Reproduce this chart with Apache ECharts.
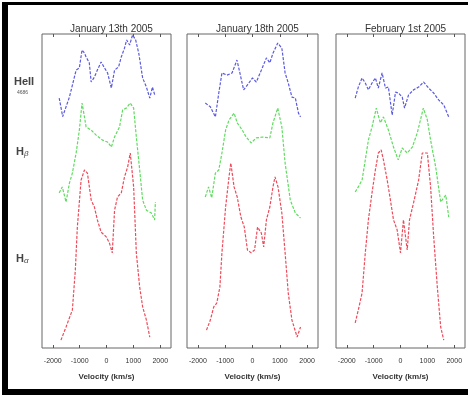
<!DOCTYPE html>
<html>
<head>
<meta charset="utf-8">
<script src="https://cdn.jsdelivr.net/npm/echarts@6/dist/echarts.min.js"></script>
<style>
  html, body { margin: 0; padding: 0; background: #fff; }
  #chart { width: 468px; height: 397px; }
</style>
</head>
<body>
<div id="chart"></div>
<script>
// panel titles and line labels
const dates = ['January 13th 2005', 'January 18th 2005', 'February 1st 2005']
const velocityTicks = [-2000, -1000, 0, 1000, 2000]

// [velocity km/s, relative flux (offset)]
const jan13HeII = [[-1760,7.96],[-1630,7.37],[-1380,7.99],[-1130,8.85],[-1010,8.92],[-910,9.49],[-820,9.39],[-760,9.27],[-640,9.08],[-570,8.47],[-450,8.63],[-340,8.85],[-200,9.11],[-75,8.92],[40,8.76],[180,8.28],[300,8.85],[450,8.95],[550,9.27],[670,9.55],[750,9.81],[860,9.65],[970,9.97],[1085,9.81],[1200,9.39],[1345,8.6],[1485,8.31],[1610,7.96],[1710,8.31],[1795,8.06]]
const jan13Hb = [[-1760,4.94],[-1645,5.13],[-1505,4.65],[-1380,5.25],[-1270,5.57],[-1130,6.21],[-1010,6.94],[-910,7.8],[-820,7.36],[-760,7.04],[-570,6.94],[-385,6.78],[-150,6.62],[40,6.56],[180,6.4],[300,6.72],[485,7.04],[600,7.58],[735,7.64],[885,7.8],[1010,7.64],[1110,6.72],[1235,5.67],[1345,4.71],[1485,4.39],[1670,4.3],[1790,4.08],[1820,4.65]]
const jan13Ha = [[-1695,0.25],[-1505,0.67],[-1270,1.21],[-1160,2.48],[-1085,3.85],[-945,5.35],[-820,5.67],[-710,5.57],[-570,4.71],[-450,4.49],[-340,4.08],[-200,3.69],[-10,3.54],[110,3.34],[215,3.03],[300,4.39],[410,4.81],[550,4.94],[670,5.45],[785,5.76],[885,6.21],[1010,5.13],[1110,3.03],[1235,1.94],[1345,1.31],[1485,0.89],[1610,0.35]]

const jan18HeII = [[-1730,7.8],[-1545,7.68],[-1360,7.36],[-1235,8.12],[-1120,8.76],[-935,8.69],[-750,8.76],[-570,9.17],[-485,8.85],[-325,8.22],[-185,8.38],[0,8.6],[140,8.47],[325,8.85],[510,9.24],[635,9.08],[750,9.39],[925,9.71],[1075,9.55],[1195,8.76],[1310,8.44],[1445,7.99],[1570,7.96],[1685,7.48],[1760,7.36]]
const jan18Hb = [[-1730,4.81],[-1610,5.13],[-1495,4.78],[-1360,5.57],[-1235,5.67],[-1120,6.21],[-985,6.94],[-860,7.26],[-675,7.48],[-560,7.17],[-375,6.94],[-235,6.72],[-50,6.53],[140,6.69],[375,6.72],[635,6.69],[750,7.17],[925,7.64],[1075,7.04],[1195,5.89],[1385,4.71],[1570,4.3],[1760,4.14]]
const jan18Ha = [[-1685,0.57],[-1545,0.89],[-1420,1.31],[-1310,1.43],[-1195,1.94],[-1120,3.03],[-985,4.49],[-860,5.45],[-795,5.89],[-675,5.13],[-560,4.81],[-425,4.17],[-300,3.85],[-185,3.12],[-50,3.03],[75,3.12],[185,3.85],[325,3.66],[410,3.22],[510,4.08],[635,4.49],[750,5.13],[825,5.45],[935,5.13],[1075,4.3],[1195,3.03],[1310,1.75],[1445,0.89],[1635,0.35],[1760,0.67]]

const feb1HeII = [[-1685,7.96],[-1570,8.31],[-1430,8.6],[-1310,8.44],[-1195,8.22],[-1060,8.44],[-935,8.6],[-825,8.28],[-685,8.76],[-560,8.28],[-450,8.31],[-310,7.42],[-185,8.15],[-75,8.12],[65,7.99],[150,7.64],[300,8.06],[485,8.22],[675,8.31],[860,8.47],[1045,8.28],[1235,8.12],[1420,7.9],[1610,7.74],[1795,7.36]]
const feb1Hb = [[-1685,4.97],[-1570,5.13],[-1430,5.35],[-1310,5.99],[-1195,6.62],[-1060,7.04],[-900,7.64],[-750,7.17],[-635,7.36],[-450,6.94],[-260,6.4],[-85,5.99],[65,6.37],[250,6.21],[440,6.4],[625,6.85],[850,7.64],[1000,7.26],[1120,6.62],[1310,5.76],[1495,4.65],[1685,4.87],[1795,4.17]]
const feb1Ha = [[-1685,0.8],[-1570,1.21],[-1430,1.75],[-1310,3.03],[-1195,4.08],[-1060,4.94],[-935,5.67],[-825,6.21],[-720,6.31],[-635,5.99],[-495,5.35],[-375,4.71],[-260,4.08],[-125,3.76],[0,3.03],[110,4.08],[250,3.12],[335,4.08],[485,4.62],[675,5.35],[810,6.21],[1000,6.21],[1120,5.13],[1235,3.54],[1370,1.94],[1495,0.67],[1610,0.25]]

const panels = [
  [jan13HeII, jan13Hb, jan13Ha],
  [jan18HeII, jan18Hb, jan18Ha],
  [feb1HeII, feb1Hb, feb1Ha]
]
const lineNames = ['HeII 4686', 'Hβ', 'Hα']
const lineColors = ['#5a5ae0', '#5fdc5f', '#ee4a5a']

const gridLefts = [42, 187, 336]
const gridWidths = [129, 131, 129]

const chart = echarts.init(document.getElementById('chart'))

const grids = gridLefts.map((left, i) => ({
  left: left,
  top: 34,
  width: gridWidths[i],
  height: 314,
  show: true,
  borderColor: '#666',
  borderWidth: 1
}))

const xAxes = []
const yAxes = []
const series = []

panels.forEach((lines, i) => {
	// bottom axis with labels
	xAxes.push({
		type: 'value',
		gridIndex: i,
		min: -2400,
		max: 2400,
		position: 'bottom',
		name: 'Velocity (km/s)',
		nameLocation: 'middle',
		nameGap: 25,
		nameTextStyle: { fontSize: 8, color: '#333', fontFamily: 'Liberation Sans', fontWeight: 'bold' },
		axisLine: { show: false },
		axisTick: { inside: true, length: 3, customValues: velocityTicks, lineStyle: { color: '#555' } },
		axisLabel: {
			customValues: velocityTicks,
			formatter: v => String(v),
			fontSize: 7,
			color: '#333',
			margin: 10,
			fontFamily: 'Liberation Sans'
		},
		splitLine: { show: false }
	})
	// top axis, ticks only
	xAxes.push({
		type: 'value',
		gridIndex: i,
		min: -2400,
		max: 2400,
		position: 'top',
		axisLine: { show: false },
		axisTick: { inside: true, length: 3, customValues: velocityTicks, lineStyle: { color: '#555' } },
		axisLabel: { show: false },
		splitLine: { show: false }
	})
	yAxes.push({
		type: 'value',
		gridIndex: i,
		min: 0,
		max: 10,
		axisLine: { show: false },
		axisTick: { show: false },
		axisLabel: { show: false },
		splitLine: { show: false }
	})
	lines.forEach((data, j) => {
		series.push({
			name: lineNames[j],
			type: 'line',
			xAxisIndex: i * 2,
			yAxisIndex: i,
			data: data,
			showSymbol: false,
			lineStyle: { color: lineColors[j], width: 1.2, type: [3, 1.5] },
			silent: true
		})
	})
})

const titles = dates.map((d, i) => ({
  text: d,
  left: gridLefts[i] + gridWidths[i] / 2,
  top: 19,
  textAlign: 'center',
  textStyle: { fontSize: 10, fontWeight: 'normal', color: '#333', fontFamily: 'Liberation Sans' }
}))

chart.setOption({
	animation: false,
	backgroundColor: '#fff',
	title: titles,
	grid: grids,
	xAxis: xAxes,
	yAxis: yAxes,
	series: series,
	graphic: [
		// outer frame
		{ type: 'rect', shape: { x: 2, y: 2, width: 6, height: 393 }, style: { fill: '#000' } },
		{ type: 'rect', shape: { x: 2, y: 2, width: 466, height: 3 }, style: { fill: '#000' } },
		{ type: 'rect', shape: { x: 2, y: 389, width: 466, height: 6 }, style: { fill: '#000' } },
		// row labels
		{ type: 'text', left: 14, top: 76, style: { text: 'HeII', fontSize: 11, fontWeight: 'bold', fill: '#444', fontFamily: 'Liberation Sans' } },
		{ type: 'text', left: 17, top: 90, style: { text: '4686', fontSize: 5, fill: '#555', fontFamily: 'Liberation Sans' } },
		{ type: 'text', left: 16, top: 146, style: {
			text: '{a|H}{b|β}',
			rich: {
				a: { fontSize: 11, fontWeight: 'bold', fill: '#444', fontFamily: 'Liberation Sans' },
				b: { fontSize: 8, fontStyle: 'italic', fill: '#444', fontFamily: 'Liberation Sans', padding: [4, 0, 0, 0] }
			}
		} },
		{ type: 'text', left: 16, top: 253, style: {
			text: '{a|H}{b|α}',
			rich: {
				a: { fontSize: 11, fontWeight: 'bold', fill: '#444', fontFamily: 'Liberation Sans' },
				b: { fontSize: 8, fontStyle: 'italic', fill: '#444', fontFamily: 'Liberation Sans', padding: [4, 0, 0, 0] }
			}
		} }
	]
})
</script>
</body>
</html>
